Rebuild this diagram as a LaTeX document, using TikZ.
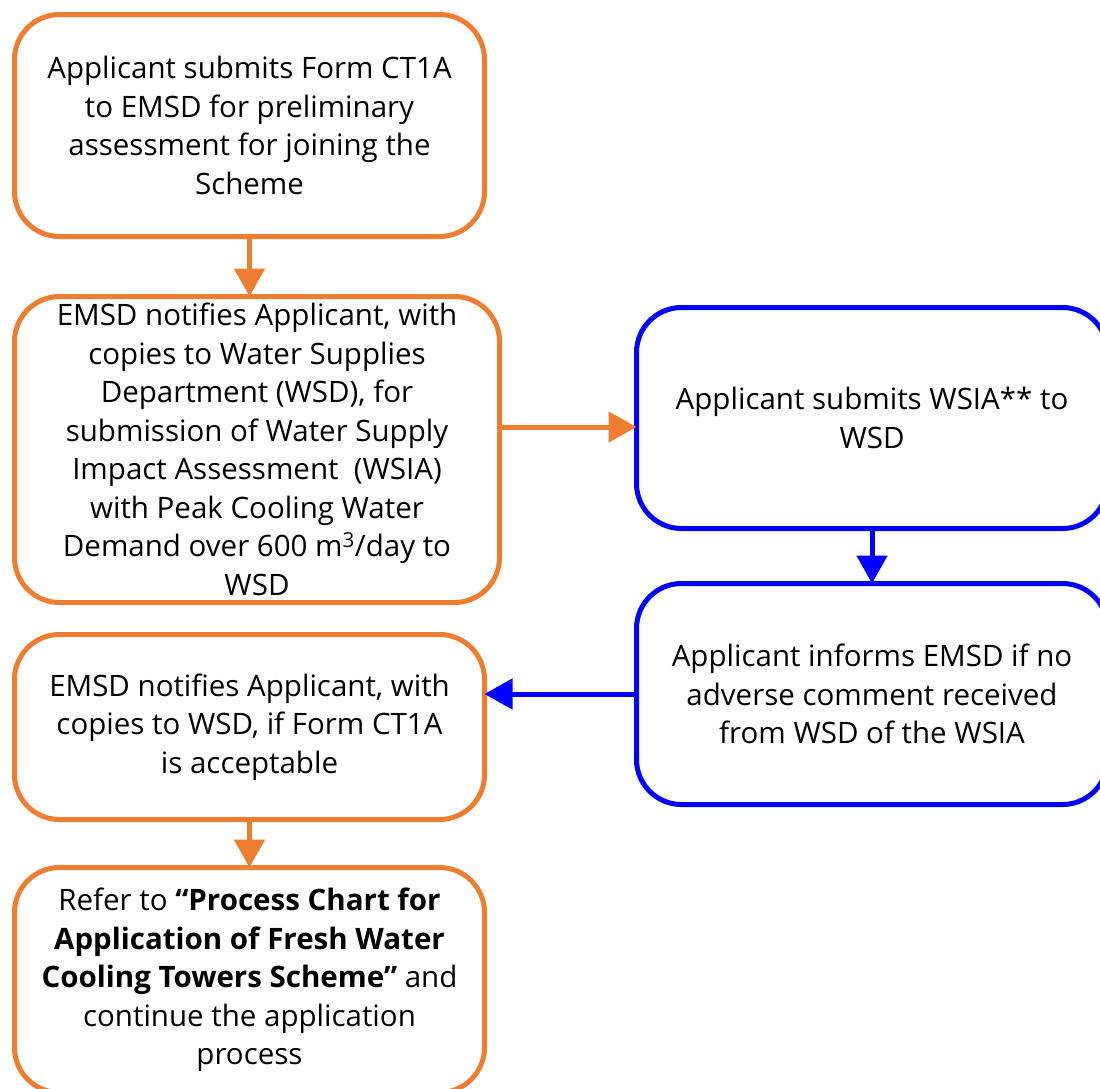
\documentclass[tikz,border=0pt]{standalone}
\usepackage{fontspec}
\setmainfont{Open Sans}
\usetikzlibrary{arrows.meta}
\definecolor{borange}{HTML}{ED7D31}
\definecolor{bblue}{HTML}{0000FF}
\begin{document}
\begin{tikzpicture}[x=1pt,y=-1pt,
  box/.style={draw, line width=5pt, rounded corners=45pt, inner sep=0pt, outer sep=0pt,
    align=center, font=\fontsize{29.5}{38.5}\selectfont, text=black},
  obox/.style={box, draw=borange},
  bbox/.style={box, draw=bblue},
  oarrow/.style={draw=borange, fill=borange, line width=5pt, -{Triangle[width=30pt,length=28pt]}},
  barrow/.style={draw=bblue, fill=bblue, line width=5pt, -{Triangle[width=30pt,length=28pt]}}]
\useasboundingbox (0,0) rectangle (1100,1088);
\clip (0,0) rectangle (1100,1088);
\node[obox, minimum width=470pt, minimum height=222pt] (b1) at (249.5,125.5)
  {Applicant submits Form CT1A\\to EMSD for preliminary\\assessment for joining the\\Scheme};
\node[obox, minimum width=485pt, minimum height=306pt] (b2) at (257,449.5)
  {EMSD notifies Applicant, with\\copies to Water Supplies\\Department (WSD), for\\submission of Water Supply\\Impact Assessment~ (WSIA)\\with Peak Cooling Water\\Demand over 600 m\textsuperscript{3}/day to\\WSD};
\node[bbox, minimum width=471pt, minimum height=221pt] (b3) at (872,418)
  {Applicant submits WSIA** to\\WSD};
\node[bbox, minimum width=471pt, minimum height=221pt] (b4) at (872,694)
  {Applicant informs EMSD if no\\adverse comment received\\from WSD of the WSIA};
\node[obox, minimum width=470pt, minimum height=185pt] (b5) at (249.5,727)
  {EMSD notifies Applicant, with\\copies to WSD, if Form CT1A\\is acceptable};
\node[obox, minimum width=470pt, minimum height=225pt] (b6) at (249.5,980)
  {Refer to \textbf{``Process Chart for}\\\textbf{Application of Fresh Water}\\\textbf{Cooling Towers Scheme''} and\\continue the application\\process};
\draw[oarrow] (b1.south) -- (b1.south |- b2.north);
\draw[oarrow] (b2.east |- 0,427) -- (b3.west |- 0,427);
\draw[barrow] (b3.south) -- (b4.north);
\draw[barrow] (b4.west) -- (b5.east |- b4.west);
\draw[oarrow] (b5.south) -- (b6.north);
\end{tikzpicture}
\end{document}
